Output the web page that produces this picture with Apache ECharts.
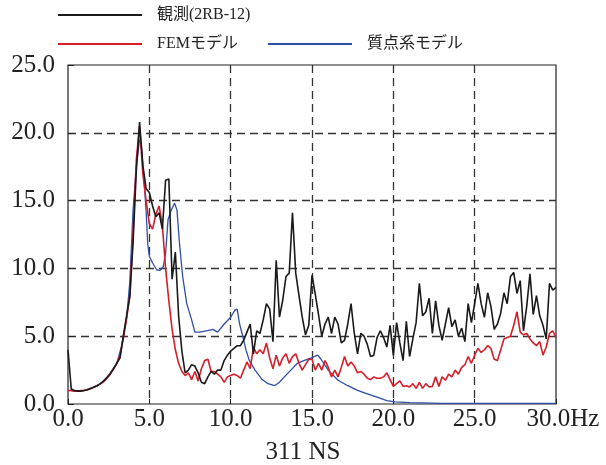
<!DOCTYPE html>
<html>
<head>
<meta charset="utf-8">
<script src="https://cdn.jsdelivr.net/npm/echarts@6/dist/echarts.min.js"></script>
<style>
  html, body { margin: 0; padding: 0; background: #fff; }
  #chart { width: 606px; height: 465px; }
</style>
</head>
<body>
<div id="chart"></div>
<script>
// spectra, one value every 0.2 Hz from 0 to 30 Hz
var FREQ_STEP = 0.2;

var obsName = '観測(2RB-12)';
var femName = 'FEMモデル';
var lumpName = '質点系モデル';

var obsValues = [
  4.0, 1.1, 1.0, 0.95, 0.95, 1.0, 1.05, 1.15, 1.25, 1.35,
  1.5, 1.7, 1.95, 2.25, 2.6, 3.0, 3.4, 5.0, 6.5, 7.9,
  11.9, 17.2, 20.8, 17.6, 15.9, 15.6, 14.6, 13.8, 14.1, 12.9,
  16.5, 16.6, 9.2, 11.2, 6.5, 3.9, 2.3, 2.5, 2.9, 2.8,
  2.3, 1.6, 1.5, 2.0, 2.4, 2.2, 2.5, 2.5, 3.2, 3.6,
  3.9, 4.1, 4.3, 4.3, 4.7, 5.3, 5.9, 3.7, 5.4, 5.2,
  6.2, 7.4, 7.0, 4.6, 10.6, 6.4, 7.65, 9.4, 9.65, 14.1,
  9.65, 8.0, 6.4, 5.1, 5.8, 9.5, 8.1, 6.6, 5.0, 5.9,
  6.4, 5.2, 6.4, 5.9, 4.5, 4.7, 5.9, 7.4, 5.2, 3.7,
  5.2, 5.0, 4.4, 3.5, 3.6, 4.9, 5.4, 4.9, 4.2, 5.8,
  3.6, 6.0, 4.5, 3.2, 6.1, 3.5, 4.8, 6.0, 8.9, 6.5,
  6.8, 7.8, 5.2, 7.6, 5.8, 4.7, 5.9, 7.1, 5.7, 6.2,
  5.0, 5.6, 4.6, 7.4, 6.0, 7.4, 8.9, 7.4, 6.4, 8.2,
  7.2, 5.5, 5.9, 6.7, 8.2, 7.4, 9.4, 9.7, 8.15, 9.1,
  5.4, 7.2, 9.6, 6.6, 8.0, 6.5, 5.8, 4.8, 8.9, 8.4,
  8.6
];

var femValues = [
  1.0, 1.0, 0.95, 0.95, 1.0, 1.0, 1.05, 1.15, 1.25, 1.35,
  1.5, 1.65, 1.9, 2.2, 2.6, 3.0, 3.6, 4.8, 6.3, 8.0,
  12.5, 18.0, 20.5, 17.0, 15.0, 13.3, 12.9, 14.0, 14.6, 13.2,
  10.0, 7.6, 5.5, 4.0, 3.0, 2.4, 2.1, 2.3, 1.8, 2.4,
  1.7, 2.6, 3.2, 3.3, 2.4, 2.4, 2.2, 2.0, 1.6, 2.0,
  2.1, 2.2, 2.1, 1.9, 2.5, 3.1, 2.6, 4.2, 3.7, 4.0,
  3.7, 4.5, 3.4, 2.6, 3.6, 2.8, 3.4, 3.7, 3.0, 3.5,
  3.7, 3.0, 2.5, 2.9, 3.3, 3.3, 2.5, 3.0, 2.5, 3.2,
  2.7, 2.0, 2.5, 2.0, 2.7, 3.5, 2.8, 3.1, 2.8, 2.3,
  2.4, 2.2, 1.9, 1.8, 2.0, 1.9, 1.9, 2.0, 2.3, 1.8,
  1.3, 1.5, 1.7, 1.3, 1.35, 1.25, 1.5, 1.15, 1.6, 1.15,
  1.5, 1.25, 1.3, 2.0, 1.3, 2.0, 1.75, 2.2, 2.0, 2.5,
  2.2, 2.7, 2.9, 3.5, 3.0, 3.6, 4.1, 3.8, 4.0, 4.3,
  4.1, 3.3, 3.2, 4.0, 4.8, 4.9, 5.0, 5.8, 6.8, 5.3,
  5.1, 5.2, 4.8, 4.5, 4.3, 4.6, 3.6, 4.2, 5.2, 5.4,
  4.9
];

// the lumped-mass model is smooth, so it is kept at its own break points
var lumpFreq = [
  0, 0.5, 1.0, 1.5, 2.0, 2.5, 3.0, 3.3, 3.6, 3.8,
  4.0, 4.2, 4.4, 4.5, 4.66, 4.8, 4.9, 5.0, 5.2, 5.45,
  5.65, 5.85, 6.0, 6.15, 6.35, 6.55, 6.7, 6.85, 7.05, 7.3,
  7.6, 7.8, 8.1, 8.5, 8.9, 9.2, 9.6, 10.0, 10.25, 10.4,
  10.55, 10.75, 10.95, 11.15, 11.5, 11.9, 12.3, 12.7, 13.0, 13.3,
  13.7, 14.1, 14.5, 14.95, 15.35, 15.55, 16.0, 16.6, 17.2, 17.8,
  18.4, 19.0, 19.6, 20.1, 21.0, 23.0, 30.0
];
var lumpValues = [
  1.0, 0.95, 1.0, 1.2, 1.5, 2.1, 3.0, 4.3, 6.3, 9.0,
  14.3, 17.5, 19.5, 19.2, 16.8, 14.3, 11.8, 10.9, 10.4, 9.9,
  9.85, 10.1, 11.1, 13.6, 14.3, 14.8, 14.3, 11.9, 9.4, 7.4,
  6.2, 5.3, 5.3, 5.4, 5.5, 5.3, 5.9, 6.4, 6.9, 7.0,
  5.9, 4.95, 3.95, 3.2, 2.5, 1.85, 1.5, 1.35, 1.6, 2.0,
  2.5, 3.0, 3.2, 3.4, 3.6, 3.3, 2.5, 1.75, 1.35, 1.0,
  0.75, 0.5, 0.25, 0.15, 0.1, 0.05, 0.05
];

var xTicks = [0, 5, 10, 15, 20, 25, 30];
var yTicks = [0, 5, 10, 15, 20, 25];

function stepped(values) {
  return values.map(function (v, i) { return [i * FREQ_STEP, v]; });
}
function paired(freqs, values) {
  return freqs.map(function (f, i) { return [f, values[i]]; });
}

var serifFont = '"Liberation Serif", "Times New Roman", serif';
var legendFont = '"Liberation Serif", "Noto Sans CJK JP", serif';

function legendAt(name, left, top) {
  return {
    data: [name],
    left: left,
    top: top,
    icon: 'rect',
    itemWidth: 84,
    itemHeight: 2,
    selectedMode: false,
    textStyle: { fontFamily: legendFont, fontSize: 16, color: '#222', padding: [0, 0, 0, 10] }
  };
}

var chart = echarts.init(document.getElementById('chart'));

var option = {
  animation: false,
  backgroundColor: '#fff',
  title: {
    text: '311 NS',
    left: 'center',
    bottom: -5,
    textStyle: { fontFamily: serifFont, fontSize: 25, fontWeight: 'normal', color: '#222' }
  },
  legend: [
    legendAt(obsName, 53, 2),
    legendAt(femName, 53, 31),
    legendAt(lumpName, 263, 31)
  ],
  grid: {
    left: 68, right: 50, top: 65, bottom: 61,
    show: true,
    borderColor: '#222',
    borderWidth: 1.2
  },
  xAxis: {
    type: 'value',
    min: xTicks[0],
    max: xTicks[xTicks.length - 1],
    interval: 5,
    axisLine: { show: false },
    axisTick: { show: true, inside: true, length: 5, lineStyle: { color: '#222' } },
    axisLabel: {
      margin: 3,
      fontFamily: serifFont,
      fontSize: 25,
      color: '#222',
      formatter: function (v) {
        if (v === xTicks[xTicks.length - 1]) return '{last|' + v.toFixed(1) + 'Hz}';
        return v.toFixed(1);
      },
      rich: {
        last: { fontFamily: serifFont, fontSize: 25, color: '#222', padding: [0, 0, 0, 14] }
      }
    },
    splitLine: {
      show: true, showMinLine: false, showMaxLine: false,
      lineStyle: { color: '#333', width: 1.3, type: [8, 5] }
    }
  },
  yAxis: {
    type: 'value',
    min: yTicks[0],
    max: yTicks[yTicks.length - 1],
    interval: 5,
    axisLine: { show: false },
    axisTick: { show: true, inside: true, length: 6, lineStyle: { color: '#222' } },
    axisLabel: {
      margin: 13,
      fontFamily: serifFont,
      fontSize: 25,
      color: '#222',
      formatter: function (v) { return v.toFixed(1); }
    },
    splitLine: {
      show: true, showMinLine: false, showMaxLine: false,
      lineStyle: { color: '#333', width: 1.3, type: [8, 5] }
    }
  },
  series: [
    {
      name: lumpName, type: 'line', showSymbol: false, z: 2,
      data: paired(lumpFreq, lumpValues),
      lineStyle: { color: '#2f4fa6', width: 1.3 },
      itemStyle: { color: '#2f4fa6' }
    },
    {
      name: femName, type: 'line', showSymbol: false, z: 3,
      data: stepped(femValues),
      lineStyle: { color: '#d41f2a', width: 1.6 },
      itemStyle: { color: '#d41f2a' }
    },
    {
      name: obsName, type: 'line', showSymbol: false, z: 4,
      data: stepped(obsValues),
      lineStyle: { color: '#1a1a1a', width: 1.6 },
      itemStyle: { color: '#1a1a1a' }
    }
  ]
};

chart.setOption(option);
</script>
</body>
</html>
